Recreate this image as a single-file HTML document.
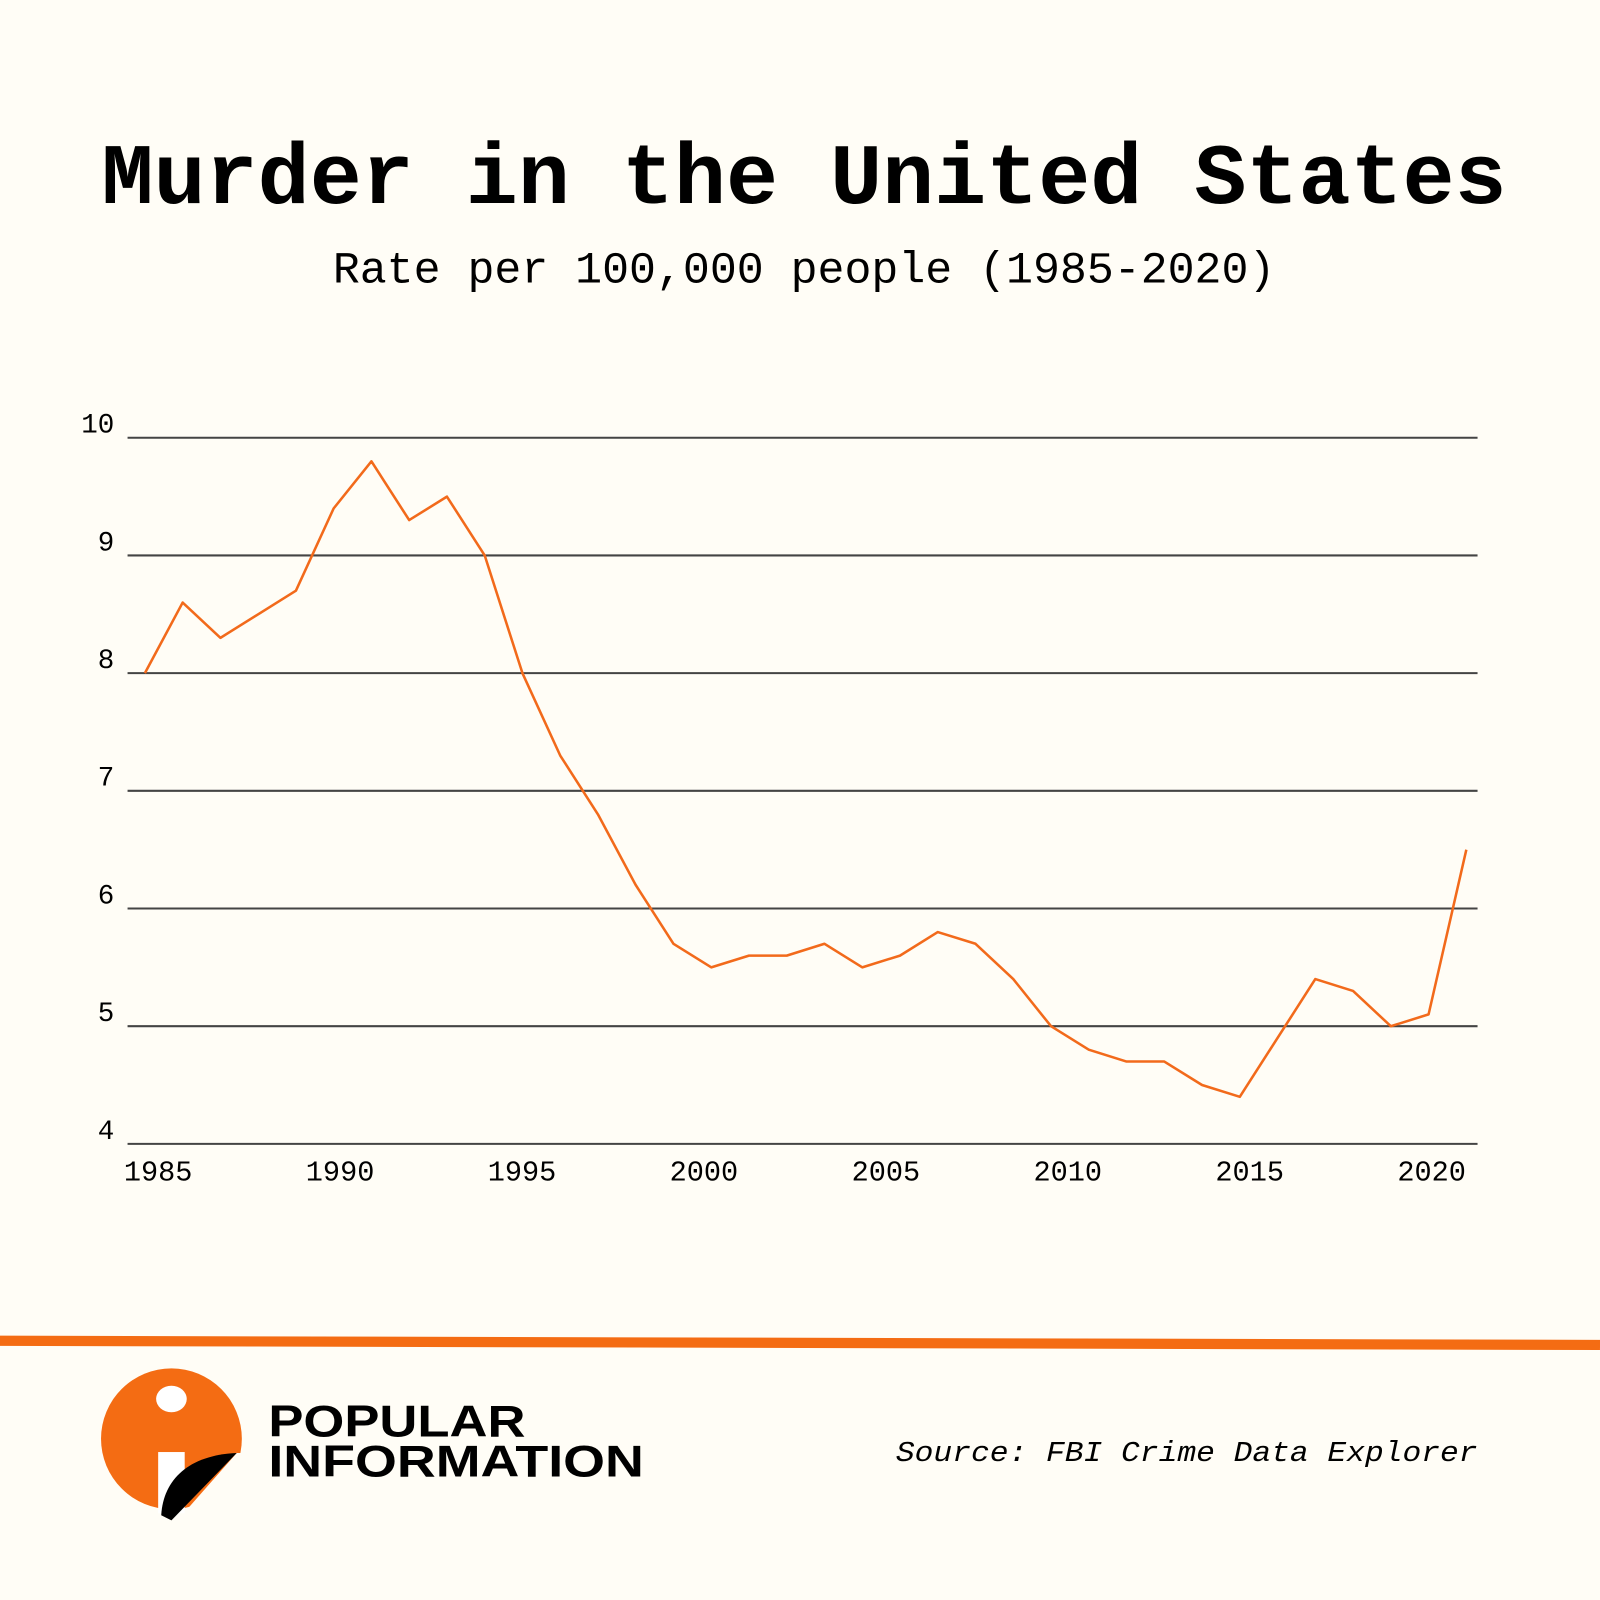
<!DOCTYPE html>
<html><head><meta charset="utf-8"><style>
html,body{margin:0;padding:0;background:#fffdf6;}
svg{display:block;}
</style></head><body>
<svg id="chart" width="1600" height="1600" viewBox="0 0 1568 1568" xmlns="http://www.w3.org/2000/svg">
<rect width="1568" height="1568" fill="#fffdf6"/>
<text x="788" y="199" text-anchor="middle" font-family="Liberation Mono, monospace" font-weight="bold" font-size="85" fill="#000">Murder in the United States</text>
<text x="788" y="277" text-anchor="middle" font-family="Liberation Mono, monospace" font-size="44" fill="#000">Rate per 100,000 people (1985-2020)</text>
<g id="grid"></g>
<g id="ylabels"></g>
<g id="xlabels"></g>
<path id="line" fill="none" stroke="#f26a1b" stroke-width="2.5" stroke-linejoin="round"/>
<rect x="0" y="1311" width="1568" height="10" fill="#f46c13" transform="rotate(0.15 784 1316)"/>
<g>
<circle cx="168" cy="1410" r="69" fill="#f46c13"/>
<polygon points="232,1424 250,1424 250,1500 165,1500" fill="#fffdf6"/>
<ellipse cx="168" cy="1371" rx="15" ry="13" fill="#fff"/>
<rect x="155" y="1423" width="26" height="60" fill="#fff"/>
<path d="M158 1485 C160 1450 185 1426 232 1424 L168 1490 Z" fill="#000"/>
<text x="263" y="1408" font-family="Liberation Sans, sans-serif" font-weight="bold" font-size="44" fill="#000" textLength="252" lengthAdjust="spacingAndGlyphs">POPULAR</text>
<text x="263" y="1447" font-family="Liberation Sans, sans-serif" font-weight="bold" font-size="44" fill="#000" textLength="368" lengthAdjust="spacingAndGlyphs">INFORMATION</text>
</g>
<text x="1448" y="1432" text-anchor="end" font-family="Liberation Mono, monospace" font-style="italic" font-size="28" fill="#000" textLength="570" lengthAdjust="spacingAndGlyphs">Source: FBI Crime Data Explorer</text>
</svg>
<script>
const years = [1985,1986,1987,1988,1989,1990,1991,1992,1993,1994,1995,1996,1997,1998,1999,2000,2001,2002,2003,2004,2005,2006,2007,2008,2009,2010,2011,2012,2013,2014,2015,2016,2017,2018,2019,2020];
const rates = [8.0,8.6,8.3,8.5,8.7,9.4,9.8,9.3,9.5,9.0,8.0,7.3,6.8,6.2,5.7,5.5,5.6,5.6,5.7,5.5,5.6,5.8,5.7,5.4,5.0,4.8,4.7,4.7,4.5,4.4,4.9,5.4,5.3,5.0,5.1,6.5];
const yTicks = [4,5,6,7,8,9,10];
const xTickLabels = [1985,1990,1995,2000,2005,2010,2015,2020];
const NS = "http://www.w3.org/2000/svg";
function x(yr){return 142 + (yr-1985)*(1437-142)/35;}
function xl(yr){return 155 + (yr-1985)*(1403-155)/35;}
function y(v){return 1121 - (v-4)*(1121-429)/6;}
const grid=document.getElementById('grid'), yl=document.getElementById('ylabels'), xlg=document.getElementById('xlabels');
yTicks.forEach(t=>{
  const l=document.createElementNS(NS,'line');
  
  
  l.setAttribute('x1',125);l.setAttribute('x2',1448);
  l.setAttribute('y1',y(t));l.setAttribute('y2',y(t));
  l.setAttribute('stroke','#444');l.setAttribute('stroke-width','2');
  grid.appendChild(l);
  const tx=document.createElementNS(NS,'text');
  
  
  tx.setAttribute('x',112);tx.setAttribute('y',y(t)-5);
  tx.setAttribute('text-anchor','end');
  tx.setAttribute('font-family','Liberation Mono, monospace');tx.setAttribute('font-size','27');
  tx.textContent=t;yl.appendChild(tx);
});
xTickLabels.forEach(t=>{
  const tx=document.createElementNS(NS,'text');
  
  
  tx.setAttribute('x',xl(t));tx.setAttribute('y',1157);
  tx.setAttribute('text-anchor','middle');
  tx.setAttribute('font-family','Liberation Mono, monospace');tx.setAttribute('font-size','28');
  tx.textContent=t;xlg.appendChild(tx);
});
document.getElementById('line').setAttribute('d', years.map((yr,i)=>(i?'L':'M')+x(yr).toFixed(1)+' '+y(rates[i]).toFixed(1)).join(' '));
</script>
</body></html>
